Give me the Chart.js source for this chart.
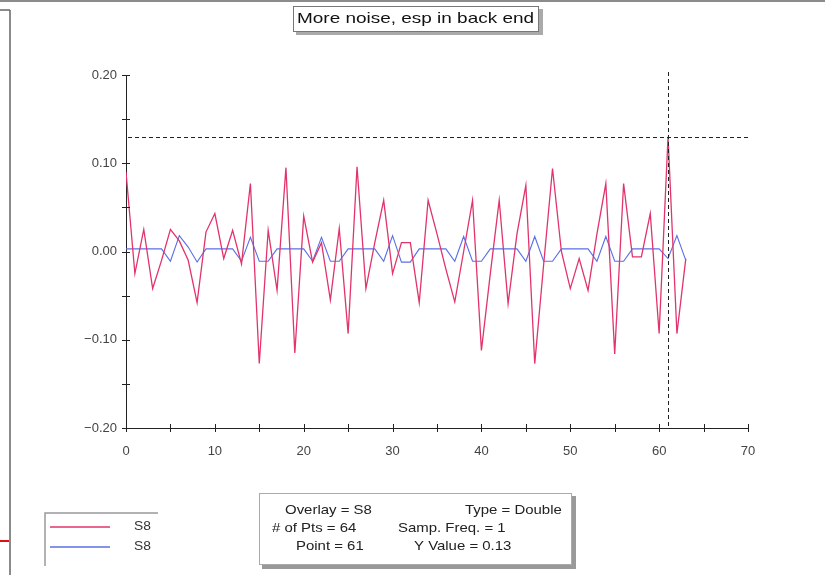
<!DOCTYPE html>
<html>
<head>
<meta charset="utf-8">
<script src="https://cdn.jsdelivr.net/npm/chart.js@4/dist/chart.umd.min.js"></script>
<style>
  html, body { margin: 0; padding: 0; background: #fff; }
  #wrap { width: 825px; height: 575px; position: relative; }
</style>
</head>
<body>
<div id="wrap"><canvas id="plot" width="825" height="575"></canvas></div>
<script>
// values, one per sample (0..63)
const redS8 = [
  0.090, -0.025, 0.025, -0.042, -0.010, 0.025, 0.012, -0.010,
  -0.058, 0.022, 0.043, -0.008, 0.024, -0.014, 0.077, -0.127,
  0.024, -0.044, 0.095, -0.115, 0.040, -0.012, 0.010, -0.055,
  0.026, -0.093, 0.096, -0.042, 0.010, 0.058, -0.025, 0.010,
  0.010, -0.058, 0.058, 0.020, -0.020, -0.057, 0.000, 0.058,
  -0.112, -0.025, 0.058, -0.059, 0.020, 0.075, -0.127, -0.015,
  0.094, 0.000, -0.042, -0.008, -0.044, 0.020, 0.077, -0.116,
  0.077, -0.006, -0.006, 0.043, -0.093, 0.130, -0.093, -0.008
];
const blueS8 = [
  0.003, 0.003, 0.003, 0.003, 0.003, -0.011, 0.018, 0.005,
  -0.012, 0.003, 0.003, 0.003, 0.003, -0.011, 0.016, -0.011,
  -0.011, 0.003, 0.003, 0.003, 0.003, -0.011, 0.016, -0.011,
  -0.011, 0.003, 0.003, 0.003, 0.003, -0.011, 0.018, -0.012,
  -0.012, 0.003, 0.003, 0.003, 0.003, -0.011, 0.017, -0.011,
  -0.011, 0.003, 0.003, 0.003, 0.003, -0.011, 0.017, -0.011,
  -0.011, 0.003, 0.003, 0.003, 0.003, -0.011, 0.017, -0.011,
  -0.011, 0.003, 0.003, 0.003, 0.003, -0.008, 0.018, -0.010
];
const seriesNames = ['S8', 'S8'];
const seriesColors = ['#e2336a', '#5b6fe6'];
const xRange = [0, 70];
const yRange = [-0.2, 0.2];
const cursorPoint = 61;
const cursorValue = 0.13;
const titleText = 'More noise, esp in back end';
const infoLines = [
  ['Overlay = S8', 'Type = Double'],
  ['# of Pts = 64', 'Samp. Freq. = 1'],
  ['Point = 61', 'Y Value = 0.13']
];

const FONT = '"Liberation Sans", Arial, sans-serif';
const toPts = arr => arr.map((v, i) => ({ x: i, y: v }));

function fmtY(v) {
  const s = Math.abs(v).toFixed(2);
  return v < -1e-9 ? '\u2212' + s : s;
}

// old X-style fonts are wider than ours, so stretch text sideways
function wideText(c, txt, x, y, sx) {
  c.save();
  c.translate(x, y);
  c.scale(sx, 1);
  c.fillText(txt, 0, 0);
  c.restore();
}

// frame, title box, legend, info box, crossing ticks and cursor lines
const decor = {
  id: 'decor',
  beforeDraw(chart) {
    const c = chart.ctx;
    c.save();
    c.fillStyle = '#fff';
    c.fillRect(0, 0, 825, 575);
    // window frame
    c.strokeStyle = '#666';
    c.lineWidth = 1.5;
    c.beginPath();
    c.moveTo(0, 1); c.lineTo(825, 1);
    c.moveTo(0, 10); c.lineTo(10, 10);
    c.moveTo(10, 10); c.lineTo(10, 575);
    c.stroke();
    c.strokeStyle = '#d11';
    c.lineWidth = 2;
    c.beginPath(); c.moveTo(0, 541); c.lineTo(9, 541); c.stroke();
    c.restore();
  },
  afterDatasetsDraw(chart) {
    const c = chart.ctx;
    const xs = chart.scales.x, ys = chart.scales.y;
    const x0 = xs.getPixelForValue(0), y0 = ys.getPixelForValue(yRange[0]);
    c.save();
    // axis ticks crossing the axis lines
    c.strokeStyle = '#222';
    c.lineWidth = 1;
    c.beginPath();
    for (let v = -20; v <= 20; v += 5) {
      const py = Math.round(ys.getPixelForValue(v / 100)) + 0.5;
      c.moveTo(x0 - 4, py); c.lineTo(x0 + 4, py);
    }
    for (let v = 0; v <= 70; v += 5) {
      const px = Math.round(xs.getPixelForValue(v)) + 0.5;
      c.moveTo(px, y0 - 4); c.lineTo(px, y0 + 4);
    }
    c.stroke();
    // cursor crosshair
    const cx = xs.getPixelForValue(cursorPoint), cy = ys.getPixelForValue(cursorValue);
    c.strokeStyle = '#222';
    c.setLineDash([4, 3]);
    c.beginPath();
    c.moveTo(x0 + 2, Math.round(cy) + 0.5); c.lineTo(chart.chartArea.right, Math.round(cy) + 0.5);
    c.moveTo(Math.round(cx) + 0.5, chart.chartArea.top - 3); c.lineTo(Math.round(cx) + 0.5, y0);
    c.stroke();
    c.setLineDash([]);

    // title box
    c.fillStyle = '#aaa';
    c.fillRect(296, 9, 247, 26);
    c.fillStyle = '#fff';
    c.fillRect(293, 6, 246, 26);
    c.strokeStyle = '#777';
    c.strokeRect(293.5, 6.5, 245, 25);
    c.fillStyle = '#111';
    c.font = '15px ' + FONT;
    c.textAlign = 'left';
    c.textBaseline = 'middle';
    const tw = c.measureText(titleText).width;
    wideText(c, titleText, 297, 19, 237 / tw);

    // legend box
    c.strokeStyle = '#999';
    c.lineWidth = 1.5;
    c.beginPath();
    c.moveTo(45, 566); c.lineTo(45, 513); c.lineTo(158, 513);
    c.stroke();
    c.font = '12px ' + FONT;
    seriesNames.forEach((n, i) => {
      const ly = 527 + i * 20;
      c.strokeStyle = seriesColors[i];
      c.lineWidth = 1.3;
      c.beginPath(); c.moveTo(50, ly); c.lineTo(110, ly); c.stroke();
      c.fillStyle = '#333';
      wideText(c, n, 134, ly, 1.15);
    });

    // info box
    c.fillStyle = '#999';
    c.fillRect(262, 496, 314, 73);
    c.fillStyle = '#fff';
    c.fillRect(259, 493, 313, 72);
    c.strokeStyle = '#aaa';
    c.lineWidth = 1;
    c.strokeRect(259.5, 493.5, 312, 71);
    c.fillStyle = '#222';
    c.font = '13px ' + FONT;
    const colStarts = [[285, 465], [272, 398], [296, 414]];
    infoLines.forEach((row, i) => {
      const ly = 510 + i * 18;
      wideText(c, row[0], colStarts[i][0], ly, 1.15);
      wideText(c, row[1], colStarts[i][1], ly, 1.15);
    });
    c.restore();
  }
};

new Chart(document.getElementById('plot'), {
  type: 'line',
  data: {
    datasets: [
      { label: seriesNames[0], data: toPts(redS8), borderColor: seriesColors[0], borderWidth: 1.3, pointRadius: 0, tension: 0 },
      { label: seriesNames[1], data: toPts(blueS8), borderColor: seriesColors[1], borderWidth: 1.1, pointRadius: 0, tension: 0 }
    ]
  },
  options: {
    responsive: false,
    animation: false,
    layout: { padding: { left: 0, top: 75, right: 77, bottom: 0 } },
    plugins: { legend: { display: false }, title: { display: false }, tooltip: { enabled: false } },
    scales: {
      x: {
        type: 'linear',
        min: xRange[0], max: xRange[1],
        grid: { display: false },
        border: { color: '#222', width: 1 },
        ticks: { stepSize: 10, color: '#444', font: { family: FONT, size: 13 }, padding: 8, maxRotation: 0 },
        afterFit(s) { s.height = 147; }
      },
      y: {
        min: yRange[0], max: yRange[1],
        grid: { display: false },
        border: { color: '#222', width: 1 },
        ticks: {
          stepSize: 0.1, color: '#444', font: { family: FONT, size: 13 }, padding: 1,
          callback: v => fmtY(v)
        },
        afterFit(s) { s.width = 126; }
      }
    }
  },
  plugins: [decor]
});
</script>
</body>
</html>
